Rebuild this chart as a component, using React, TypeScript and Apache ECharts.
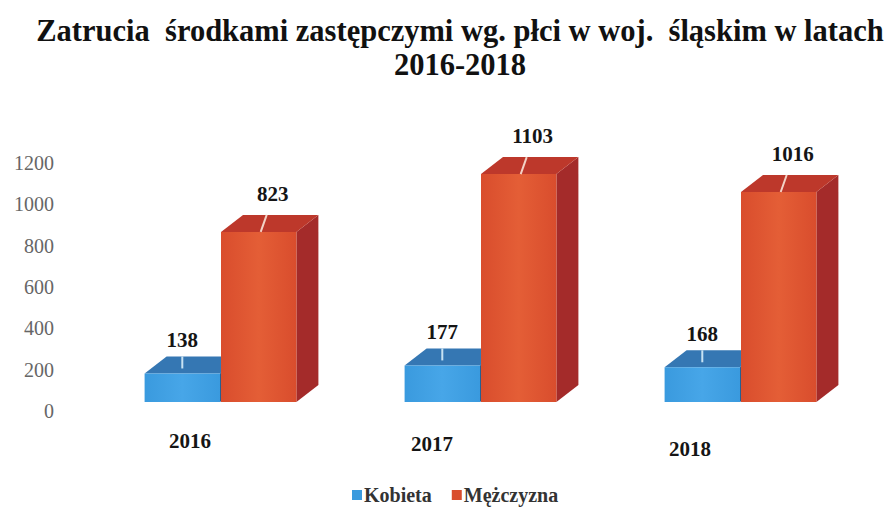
import React, { useEffect, useRef } from "react";
import * as echarts from "echarts";

const categories = ["2016", "2017", "2018"];
const kobieta = [138, 177, 168];
const mezczyzna = [823, 1103, 1016];
const seriesNames = ["Kobieta", "Mężczyzna"];
const yMin = 0;
const yMax = 1200;
const yInterval = 200;

const SERIF = "Liberation Serif";

const palette = [
  { front: "#3a9ade", frontLight: "#47a6e8", top: "#3577b3", side: "#275f90", leader: "#c7e2f3" },
  { front: "#d94d2d", frontLight: "#e45e36", top: "#bd382b", side: "#a42b2a", leader: "#f3d2c6" },
];

function makeRender(s: number) {
  return (params: any, api: any) => {
    const i = api.value(0);
    const v = api.value(1);
    const base = api.coord([i, 0]);
    const topP = api.coord([i, v]);
    const band = api.size([1, 0])[0];
    const lift = 9;
    const yb = base[1] - lift;
    const yt = topP[1] - lift;
    const c = base[0];
    const w = band * 0.29;
    const x0 = s === 0 ? c - w - 1 : c;
    const x1 = s === 0 ? c - 1 : c + w;
    const dx = 22;
    const dy = -17;
    const p = palette[s];
    const fc = (x0 + x1) / 2;
    const children: any[] = [
      {
        type: "polygon",
        shape: { points: [[x1, yb], [x1, yt], [x1 + dx, yt + dy], [x1 + dx, yb + dy]] },
        style: { fill: p.side },
      },
      {
        type: "polygon",
        shape: { points: [[x0, yt], [x0 + dx, yt + dy], [x1 + dx, yt + dy], [x1, yt]] },
        style: { fill: p.top },
      },
      {
        type: "rect",
        shape: { x: x0, y: yt, width: x1 - x0, height: yb - yt },
        style: {
          fill: new echarts.graphic.LinearGradient(0, 0, 1, 0, [
            { offset: 0, color: p.front },
            { offset: 0.5, color: p.frontLight },
            { offset: 1, color: p.front },
          ]),
        },
      },
      {
        type: "line",
        shape: s === 0
          ? { x1: fc, y1: yt + dy, x2: fc, y2: yt - 5 }
          : { x1: fc + 8, y1: yt + dy, x2: fc + 2, y2: yt },
        style: { stroke: p.leader, lineWidth: 2 },
      },
      {
        type: "text",
        style: {
          text: String(v),
          x: s === 0 ? fc : fc + 14,
          y: s === 0 ? yt - 33 : yt - 38,
          align: "center",
          verticalAlign: "middle",
          fontFamily: SERIF,
          fontWeight: "bold",
          fontSize: 21,
          fill: "#151515",
        },
      },
    ];
    return { type: "group", children };
  };
}

export default function App() {
  const ref = useRef<HTMLDivElement>(null);
  useEffect(() => {
    document.body.style.margin = "0";
    const chart = echarts.init(ref.current!, null, { renderer: "svg" });
    const series = [kobieta, mezczyzna].map((vals, s) => ({
      type: "custom",
      name: seriesNames[s],
      itemStyle: { color: palette[s].front },
      renderItem: makeRender(s),
      encode: { x: 0, y: 1 },
      data: vals.map((v, i) => [i, v]),
    }));
    const labelShift = [
      [0, 62, 0, 0],
      [3, 98, 0, 0],
      [8, 102, 0, 0],
    ];
    const rich: any = {};
    labelShift.forEach((pad, i) => {
      rich["c" + i] = {
        padding: pad,
        fontFamily: SERIF,
        fontWeight: "bold",
        fontSize: 21,
        color: "#151515",
      };
    });
    chart.setOption({
      animation: false,
      backgroundColor: "#ffffff",
      title: {
        text: "Zatrucia  środkami zastępczymi wg. płci w woj.  śląskim w latach\n2016-2018",
        left: 455,
        textAlign: "center",
        top: 9,
        textStyle: {
          fontFamily: SERIF,
          fontWeight: "bold",
          fontSize: 30.5,
          lineHeight: 34,
          color: "#111",
        },
      },
      legend: {
        data: seriesNames,
        left: 347,
        top: 480,
        icon: "rect",
        itemWidth: 10,
        itemHeight: 10,
        itemGap: 20,
        textStyle: {
          fontFamily: SERIF,
          fontWeight: "bold",
          fontSize: 20,
          color: "#333",
          padding: [0, 0, 0, -3],
        },
      },
      grid: { left: 91, right: 20, top: 163, bottom: 97 },
      xAxis: {
        type: "category",
        data: categories,
        axisLine: { show: false },
        axisTick: { show: false },
        axisLabel: {
          margin: 19,
          formatter: (val: string, idx: number) => `{c${idx}|${val}}`,
          rich,
        },
      },
      yAxis: {
        type: "value",
        min: yMin,
        max: yMax,
        interval: yInterval,
        axisLine: { show: false },
        axisTick: { show: false },
        splitLine: { show: false },
        axisLabel: {
          margin: 37,
          formatter: (v: number) => String(v),
          fontFamily: SERIF,
          fontSize: 20,
          color: "#666",
        },
      },
      series,
    });
    return () => chart.dispose();
  }, []);
  return <div ref={ref} style={{ width: 891, height: 508 }} />;
}
